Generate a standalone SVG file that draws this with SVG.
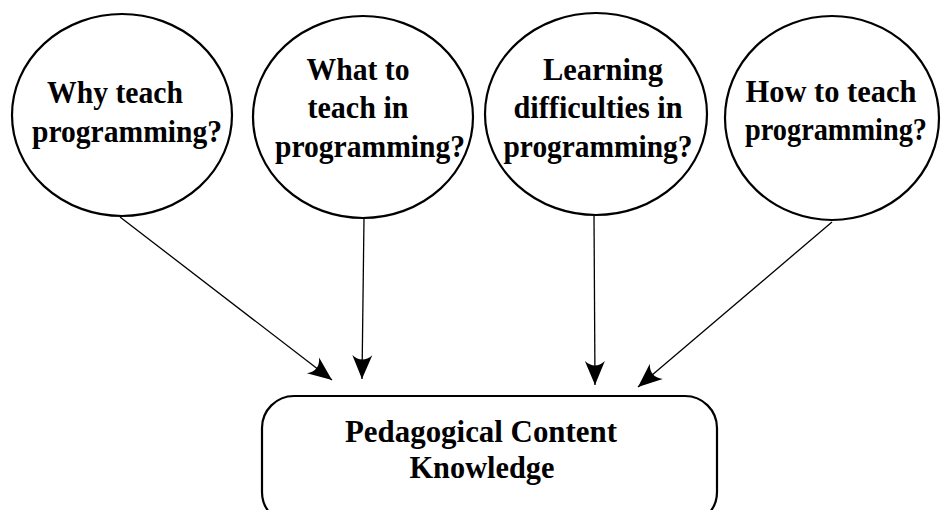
<svg xmlns="http://www.w3.org/2000/svg" width="941" height="510" viewBox="0 0 941 510">
<defs>
<marker id="arr" markerUnits="userSpaceOnUse" markerWidth="30" markerHeight="26" viewBox="-25 -13 27 26" refX="0" refY="0" orient="auto">
<path d="M0,0 L-24,-10 Q-15,0 -24,10 Z" fill="#000"/>
</marker>
</defs>
<style>
.node ellipse, .node rect { fill: #fff; stroke: #000; stroke-width: 2.2; }
.lbl { font-family: "Liberation Serif", "Times New Roman", serif; font-weight: bold; font-size: 31px; fill: #000; text-anchor: middle; }
.conn line { stroke: #000; stroke-width: 1.3; marker-end: url(#arr); }
</style>
<rect width="941" height="510" fill="#fff"/>
<g id="n1" class="node">
<ellipse cx="122" cy="115" rx="110" ry="101"/>
<text class="lbl" x="115" y="103" textLength="136" lengthAdjust="spacingAndGlyphs">Why teach</text>
<text class="lbl" x="127" y="142" textLength="190" lengthAdjust="spacingAndGlyphs">programming?</text>
</g>
<g id="n2" class="node">
<ellipse cx="363" cy="117" rx="110" ry="101"/>
<text class="lbl" x="358" y="80" textLength="103" lengthAdjust="spacingAndGlyphs">What to</text>
<text class="lbl" x="358" y="118" textLength="101" lengthAdjust="spacingAndGlyphs">teach in</text>
<text class="lbl" x="370" y="157" textLength="190" lengthAdjust="spacingAndGlyphs">programming?</text>
</g>
<g id="n3" class="node">
<ellipse cx="596" cy="114" rx="111" ry="101"/>
<text class="lbl" x="603" y="80" textLength="120" lengthAdjust="spacingAndGlyphs">Learning</text>
<text class="lbl" x="598" y="118" textLength="169" lengthAdjust="spacingAndGlyphs">difficulties in</text>
<text class="lbl" x="598" y="157" textLength="189" lengthAdjust="spacingAndGlyphs">programming?</text>
</g>
<g id="n4" class="node">
<ellipse cx="832" cy="118" rx="107" ry="102"/>
<text class="lbl" x="831" y="102" textLength="171" lengthAdjust="spacingAndGlyphs">How to teach</text>
<text class="lbl" x="836" y="140" font-size="29" textLength="182" lengthAdjust="spacingAndGlyphs">programming?</text>
</g>
<g id="pck" class="node">
<rect x="262" y="396" width="455" height="128" rx="32" ry="32"/>
<text class="lbl" x="481" y="442" font-size="32" textLength="272" lengthAdjust="spacingAndGlyphs">Pedagogical Content</text>
<text class="lbl" x="482" y="478" font-size="32" textLength="145" lengthAdjust="spacingAndGlyphs">Knowledge</text>
</g>
<g id="connectors" class="conn">
<line x1="120" y1="217" x2="332" y2="380"/>
<line x1="364" y1="218" x2="362" y2="379"/>
<line x1="594" y1="215" x2="595" y2="385"/>
<line x1="832" y1="222" x2="638" y2="387"/>
</g>
</svg>
